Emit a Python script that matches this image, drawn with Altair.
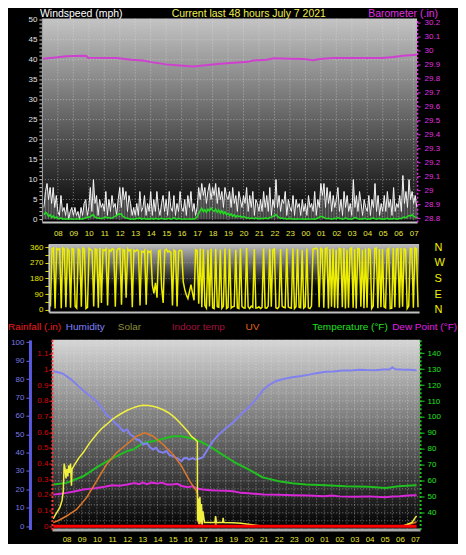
import json
import altair as alt
import pandas as pd

FONT = "Liberation Sans"

# ---------------- shared time axis (hours after 07:00, July 6) ----------------
HOUR_LABELS = ["08", "09", "10", "11", "12", "13", "14", "15", "16", "17", "18", "19",
               "20", "21", "22", "23", "00", "01", "02", "03", "04", "05", "06", "07"]
HOUR_TICKS = list(range(1, 25))
HALF_HOURS = [k / 2 for k in range(1, 49)]

# ---------------- top panel: wind speed (mph), 6-minute samples from 07:06 ----------------
WIND_T0, WIND_STEP = 0.1, 0.1
GUST = ([3, 7, 9, 5, 8, 4, 8, 3, 6, 2] + [1, 6, 2, 3, 1, 4, 0, 2, 3, 1] +
        [3, 1, 2, 0, 3, 1, 4, 5, 1, 3] + [8, 2, 10, 4, 6, 1, 5, 3, 4, 2] +
        [7, 1, 5, 2, 6, 3, 4, 1, 5, 8] + [3, 8, 5, 7, 2, 6, 4, 1, 3, 1] +
        [4, 1, 7, 2, 3, 6, 1, 4, 2, 7] + [1, 5, 2, 7, 3, 1, 4, 6, 2, 5] +
        [1, 7, 3, 2, 6, 1, 4, 2, 7, 3] + [2, 5, 1, 6, 3, 7, 2, 4, 1, 3] +
        [8, 5, 9, 6, 8, 4, 7, 9, 5, 8] + [6, 9, 4, 8, 5, 7, 3, 8, 6, 5] +
        [7, 3, 8, 4, 6, 2, 7, 5, 3, 6] + [4, 8, 2, 6, 3, 7, 1, 5, 4, 2] +
        [5, 2, 7, 3, 6, 2, 8, 1, 5, 3] + [10, 3, 6, 2, 5, 4, 7, 1, 5, 3] +
        [2, 6, 1, 5, 3, 4, 1, 5, 2, 4] + [1, 6, 3, 4, 2, 7, 1, 5, 3, 9] +
        [6, 9, 3, 8, 4, 7, 2, 6, 3, 5] + [8, 2, 5, 1, 7, 3, 6, 2, 4, 1] +
        [10, 3, 6, 2, 7, 4, 1, 5, 3, 2] + [6, 1, 5, 3, 9, 2, 6, 1, 4, 2] +
        [6, 2, 7, 3, 5, 1, 8, 2, 4, 3] + [6, 2, 11, 4, 7, 3, 10, 5, 7, 4] +
        [6, 3])
AVG = ([1.2, 1.8, 1.5, 0.8, 1.2, 0.5, 0.9, 0.4, 0.6, 0.3] +
       [0.2, 0.4, 0.1, 0.2, 0.1, 0.2, 0.1, 0.1, 0.2, 0.1] +
       [0.1, 0.2, 0.1, 0.1, 0.2, 0.1, 0.3, 0.4, 0.6, 0.5] +
       [0.8, 1.0, 1.2, 0.6, 0.5, 0.3, 0.4, 0.2, 0.3, 0.5] +
       [0.6, 0.4, 0.5, 0.3, 0.4, 0.6, 0.8, 1.0, 1.4, 1.2] +
       [1.5, 0.8, 0.6, 0.4, 0.3, 0.2, 0.1, 0.2, 0.1, 0.2] +
       [0.3, 0.2, 0.4, 0.1, 0.2, 0.3, 0.1, 0.2, 0.1, 0.3] +
       [0.2, 0.1, 0.3, 0.2, 0.1, 0.2, 0.3, 0.2, 0.1, 0.2] +
       [0.2, 0.3, 0.1, 0.2, 0.4, 0.2, 0.1, 0.3, 0.2, 0.1] +
       [0.1, 0.2, 0.1, 0.1, 0.2, 0.1, 0.2, 0.1, 0.3, 0.6] +
       [1.5, 2.2, 2.8, 2.0, 2.5, 1.8, 2.6, 2.1, 2.9, 2.3] +
       [2.0, 2.6, 1.8, 2.4, 1.6, 2.2, 1.4, 1.9, 1.2, 1.6] +
       [1.0, 1.4, 0.8, 1.2, 0.6, 1.0, 0.7, 0.9, 0.5, 0.8] +
       [0.6, 0.3, 0.5, 0.2, 0.4, 0.3, 0.2, 0.4, 0.2, 0.3] +
       [0.2, 0.3, 0.2, 0.4, 0.3, 0.2, 0.5, 0.6, 0.8, 1.0] +
       [1.2, 0.8, 0.5, 0.3, 0.4, 0.2, 0.3, 0.1, 0.2, 0.3] +
       [0.2, 0.1, 0.2, 0.1, 0.2, 0.1, 0.1, 0.2, 0.1, 0.2] +
       [0.1, 0.2, 0.1, 0.1, 0.2, 0.1, 0.2, 0.3, 0.6, 0.8] +
       [0.7, 0.5, 0.3, 0.2, 0.3, 0.2, 0.1, 0.2, 0.3, 0.2] +
       [0.5, 0.3, 0.2, 0.1, 0.2, 0.4, 0.2, 0.1, 0.2, 0.1] +
       [0.3, 0.5, 0.4, 0.2, 0.1, 0.2, 0.1, 0.3, 0.2, 0.1] +
       [0.2, 0.1, 0.3, 0.4, 0.2, 0.1, 0.2, 0.3, 0.1, 0.2] +
       [0.1, 0.2, 0.3, 0.1, 0.2, 0.1, 0.3, 0.2, 0.1, 0.2] +
       [0.3, 0.2, 0.5, 0.6, 0.4, 0.8, 1.0, 0.9, 1.2, 0.8] +
       [0.6, 0.5])
WIND_TICKS = list(range(0, 51))
WIND_GRID = [5, 10, 15, 20, 25, 30, 35, 40, 45]

# barometer (inHg): (hour, value)
BARO = [(0.03, 29.94), (0.7, 29.948), (1.0, 29.951), (1.54, 29.958), (2.62, 29.962),
        (2.85, 29.96), (2.94, 29.947), (4.8, 29.945), (5.74, 29.933), (6.5, 29.928),
        (7.03, 29.916), (8.0, 29.9), (9.1, 29.89), (9.75, 29.885), (10.4, 29.892),
        (11.3, 29.902), (12.4, 29.911), (13.3, 29.918), (13.6, 29.928), (14.5, 29.933),
        (14.93, 29.943), (16.0, 29.94), (16.9, 29.938), (17.5, 29.93), (17.95, 29.938),
        (18.8, 29.945), (22.0, 29.945), (22.7, 29.952), (23.3, 29.962), (24.2, 29.969)]
BARO_TICKS = [28.8, 28.9, 29.0, 29.1, 29.2, 29.3, 29.4, 29.5, 29.6, 29.7, 29.8, 29.9,
              30.0, 30.1, 30.2]

# ---------------- middle panel: wind direction (deg), 6-minute samples from 07:30 ----------------
DIR_T0, DIR_STEP = 0.5, 0.1
DIRECTION = ([20, 350, 355, 8, 352] +
             [345, 350, 10, 355, 348, 15, 350, 340, 12, 352] +
             [348, 20, 10, 350, 342, 18, 355, 348, 8, 15] +
             [352, 345, 338, 20, 350, 346, 12, 355, 40, 345] +
             [340, 350, 25, 344, 336, 350, 346, 18, 340, 350] +
             [352, 30, 346, 342, 70, 350, 338, 345, 15, 342] +
             [335, 345, 338, 25, 336, 330, 342, 30, 338, 330] +
             [338, 140, 95, 155, 70, 336, 342, 125, 40, 340] +
             [348, 332, 338, 328, 25, 342, 336, 20, 335, 342] +
             [338, 160, 115, 85, 65, 105, 145, 95, 55, 345] +
             [340, 35, 352, 15, 348, 25, 10, 345, 20, 350] +
             [12, 8, 350, 18, 15, 346, 10, 22, 352, 8] +
             [15, 350, 10, 18, 20, 345, 12, 8, 352, 20] +
             [12, 10, 355, 18, 8, 22, 15, 348, 10, 12] +
             [18, 8, 15, 352, 12, 10, 22, 350, 18, 345] +
             [350, 12, 8, 18, 348, 22, 15, 12, 352, 18] +
             [12, 10, 352, 8, 18, 350, 15, 12, 345, 10] +
             [18, 352, 12, 8, 22, 348, 350, 355, 346, 15] +
             [352, 345, 12, 350, 355, 8, 348, 18, 352, 12] +
             [345, 10, 352, 348, 15, 355, 8, 346, 12, 350] +
             [355, 12, 348, 8, 352, 350, 18, 345, 10, 352] +
             [12, 350, 345, 8, 22, 352, 355, 10, 348, 15] +
             [350, 18, 12, 345, 352, 8, 10, 355, 15, 348] +
             [352, 12, 355, 18, 350, 345, 8, 22, 352, 350] +
             [12, 355, 350, 15])
DIR_TICKS = [0, 45, 90, 135, 180, 225, 270, 315, 360]
DIR_GRID = [90, 180, 270]
COMPASS_TICKS = [0, 90, 180, 270, 360]
COMPASS = ["N", "E", "S", "W", "N"]

# ---------------- bottom panel: (hour, value) ----------------
HUMIDITY = [(0.12, 84.2), (0.5, 83.5), (0.78, 82.8), (1.0, 81.5), (1.3, 79.8), (1.55, 77.9),
            (1.8, 76.0), (2.1, 73.7), (2.5, 71.0), (2.98, 67.9), (3.3, 64.5), (3.64, 60.6),
            (3.9, 59.0), (4.18, 56.1), (4.4, 54.8), (4.73, 51.6), (5.0, 52.5), (5.2, 49.8),
            (5.39, 48.9), (5.6, 47.2), (5.8, 46.8), (6.05, 44.4), (6.3, 45.1), (6.5, 42.9),
            (6.71, 41.7), (6.9, 42.6), (7.1, 40.5), (7.37, 39.9), (7.6, 40.8), (7.8, 38.6),
            (8.03, 38.0), (8.2, 37.2), (8.4, 36.4), (8.58, 35.3), (8.75, 36.9), (8.9, 37.1),
            (9.1, 36.2), (9.3, 37.0), (9.5, 36.3), (9.79, 36.8), (10.0, 37.5), (10.1, 39.0),
            (10.3, 41.5), (10.66, 46.2), (11.0, 49.5), (11.55, 53.5), (12.0, 56.5),
            (12.49, 60.6), (13.0, 64.5), (13.48, 68.8), (14.03, 74.6), (14.4, 77.0),
            (14.8, 78.8), (15.3, 80.0), (15.9, 81.0), (16.5, 81.7), (17.0, 82.4), (17.5, 83.2),
            (18.1, 83.9), (18.6, 84.1), (19.2, 84.6), (19.8, 84.7), (20.3, 85.1), (20.8, 84.9),
            (21.4, 84.8), (21.9, 85.2), (22.3, 85.2), (22.5, 86.3), (22.7, 85.3), (23.3, 85.0),
            (23.7, 85.1), (24.0, 84.8), (24.1, 84.8)]
TEMPERATURE = [(0.12, 57.7), (1.0, 58.75), (2.1, 62.9), (2.98, 68.5), (4.07, 74.4), (4.95, 78.5),
               (5.39, 79.6), (6.05, 83.75), (6.7, 84.8), (7.37, 86.4), (8.03, 87.9), (8.58, 87.9),
               (9.13, 86.9), (9.79, 84.8), (10.45, 81.6), (11.1, 77.5), (11.98, 72.3),
               (12.16, 71.25), (13.04, 67.1), (13.92, 62.3), (14.36, 61.25), (15.0, 59.75),
               (15.9, 58.5), (16.8, 57.7), (18.1, 57.25), (19.4, 56.6), (20.95, 56.3),
               (22.05, 55.6), (22.9, 56.6), (24.0, 57.25), (24.1, 57.3)]
DEW_POINT = [(0.12, 51.4), (0.6, 51.9), (1.0, 52.5), (1.5, 53.4), (2.1, 54.6), (2.5, 55.0),
             (3.0, 55.6), (3.5, 56.3), (4.0, 57.25), (4.5, 57.0), (5.0, 57.7), (5.5, 58.6),
             (5.8, 57.9), (6.0, 59.1), (6.3, 58.0), (6.6, 58.9), (7.0, 58.3), (7.3, 59.0),
             (7.6, 57.8), (8.0, 57.7), (8.3, 58.2), (8.6, 56.8), (9.0, 56.0), (9.3, 56.6),
             (9.6, 55.2), (10.0, 54.6), (10.5, 54.2), (11.0, 53.9), (11.5, 53.8), (12.0, 53.5),
             (12.5, 52.5), (13.0, 52.2), (14.0, 51.4), (15.0, 51.3), (16.0, 51.0), (17.0, 50.8),
             (18.0, 50.4), (18.5, 50.9), (19.0, 50.3), (20.0, 50.0), (21.0, 50.3), (22.0, 49.8),
             (22.5, 50.2), (23.0, 50.4), (23.5, 50.8), (24.0, 51.0), (24.1, 51.0)]
# solar and UV read against the humidity scale (no axis of their own)
SOLAR = [(0.12, 4), (0.25, 6), (0.4, 8), (0.55, 10), (0.7, 14), (0.78, 19), (0.84, 34),
         (0.9, 31), (0.96, 26), (1.02, 31), (1.08, 27), (1.14, 33), (1.2, 29), (1.26, 34),
         (1.32, 22), (1.36, 31), (1.5, 33), (1.8, 37), (2.1, 40), (2.5, 45), (2.98, 50),
         (3.3, 53), (3.64, 55.3), (4.0, 58), (4.5, 60.7), (5.0, 63), (5.39, 64.3), (5.7, 65.2),
         (6.05, 65.7), (6.4, 65.6), (6.7, 65.2), (7.0, 64.5), (7.37, 63.3), (7.7, 61.8),
         (8.03, 59.8), (8.35, 57.3), (8.69, 54.3), (9.0, 51.5), (9.24, 48.8), (9.45, 47.5),
         (9.63, 46.0), (9.64, 3), (9.7, 15), (9.74, 1), (9.8, 16), (9.85, 2), (9.9, 12),
         (9.95, 1), (10.0, 8), (10.1, 2), (10.3, 2), (10.8, 2), (10.83, 5.5), (10.88, 2),
         (11.3, 2), (11.33, 4.5), (11.38, 2), (12.0, 1.8), (12.5, 1.5), (13.0, 1.0), (13.5, 0.5),
         (14.0, 0), (23.2, 0), (23.5, 1), (23.8, 2), (24.0, 4.5), (24.1, 5.5)]
UV = [(0.12, 1.9), (0.5, 3.2), (1.0, 5.5), (1.66, 9.1), (2.32, 15.5), (2.98, 24.5), (3.3, 29.0),
      (3.64, 33.6), (4.3, 39.9), (4.95, 44.4), (5.61, 48.9), (6.16, 50.7), (6.71, 48.9),
      (7.37, 44.4), (8.03, 39.0), (8.58, 32.7), (9.13, 24.5), (9.57, 19.1), (9.64, 17.5),
      (9.66, 2), (9.72, 15), (9.76, 1), (9.82, 13), (9.86, 1), (9.9, 10), (9.95, 0.5),
      (10.0, 0), (10.82, 0), (10.84, 5), (10.87, 0), (23.0, 0), (23.5, 0.8), (24.0, 2.0),
      (24.1, 2.5)]
RAINFALL = [(0.12, 0.0), (24.1, 0.0)]
HUM_TICKS = [0, 10, 20, 30, 40, 50, 60, 70, 80, 90, 100]
RAIN_TICKS = [0, 0.1, 0.2, 0.3, 0.4, 0.5, 0.6, 0.7, 0.8, 0.9, 1.0, 1.1, 1.2]
TEMP_TICKS = [40, 50, 60, 70, 80, 90, 100, 110, 120, 130, 140]
TEMP_GRID = [35, 40, 45, 50, 55, 60, 65, 70, 75, 80, 85, 90, 95, 100, 105, 110, 115, 120,
             125, 130, 135, 140, 145]

LEGEND = [("Rainfall (.in)", "#ee1c1c", -34), ("Humidity", "#8282ff", 24),
          ("Solar", "#8e8e3c", 76), ("Indoor temp", "#a3123c", 130), ("UV", "#e4641a", 204),
          ("Temperature (°F)", "#22e022", 271), ("Dew Point (°F)", "#e022e0", 351)]


# ---------------- helpers ----------------
def series_df(pairs):
    return pd.DataFrame({"t": [p[0] for p in pairs], "v": [p[1] for p in pairs],
                         "i": list(range(len(pairs)))})


def sampled_df(t0, step, values):
    return pd.DataFrame({"t": [t0 + step * i for i in range(len(values))], "v": values,
                         "i": list(range(len(values)))})


ONE = pd.DataFrame({"k": [0]})
GRID_STYLE = dict(color="#e4e4e4", strokeDash=[1, 2], opacity=0.5, strokeWidth=1)


def backdrop(x0, x1, y0, y1, stops):
    grad = alt.LinearGradient(gradient="linear", x1=0, x2=0, y1=0, y2=1,
                              stops=[alt.GradientStop(offset=o, color=c) for o, c in stops])
    return alt.Chart(ONE).mark_rect(fill=grad).encode(
        x=alt.value(x0), x2=alt.value(x1), y=alt.value(y0), y2=alt.value(y1))


def label(text, x, y, color, size, align="left", baseline="middle"):
    return alt.Chart(ONE).mark_text(text=text, align=align, baseline=baseline, color=color,
                                    fontSize=size, font=FONT).encode(
        x=alt.value(x), y=alt.value(y))


def hgrid(values, scale, axis, x0=None, x1=None):
    enc = dict(y=alt.Y("g:Q", scale=scale, axis=axis))
    if x0 is not None:
        enc.update(x=alt.value(x0), x2=alt.value(x1))
    return alt.Chart(pd.DataFrame({"g": values})).mark_rule(**GRID_STYLE).encode(**enc)


def vgrid(values, scale, axis, y0, y1):
    return alt.Chart(pd.DataFrame({"g": values})).mark_rule(**GRID_STYLE).encode(
        x=alt.X("g:Q", scale=scale, axis=axis), y=alt.value(y0), y2=alt.value(y1))


LAB = json.dumps(HOUR_LABELS)
HOUR_EXPR = f"datum.value % 1 == 0 ? {LAB}[datum.value - 1] : ''"
AX = dict(labelFont=FONT, title=None, labelOverlap=False, grid=False, zindex=1)

# ---------------- top panel ----------------
TW, TH = 376, 204
x_top_scale = alt.Scale(domain=[-0.03, 24.22], nice=False, zero=False)
x_top_axis = alt.Axis(values=HOUR_TICKS, labelExpr=HOUR_EXPR, ticks=False, domainColor="#c4c4c4",
                      domainWidth=2, labelColor="#e8e83c", labelFontSize=8, labelPadding=7, **AX)
x_top = alt.X("t:Q", scale=x_top_scale, axis=x_top_axis)
wind_scale = alt.Scale(domain=[-0.65, 50.3], nice=False, zero=False)
wind_axis = alt.Axis(orient="left", values=WIND_TICKS,
                     labelExpr="datum.value % 5 == 0 ? datum.label : ''", tickSize=3,
                     tickColor="#c8c8c8", labelColor="#e0e0e0", labelFontSize=8, labelPadding=2,
                     domainColor="#a0a0a0", **AX)
gust_df = sampled_df(WIND_T0, WIND_STEP, GUST)
avg_df = sampled_df(WIND_T0, WIND_STEP, AVG)
wind_y = alt.Y("v:Q", scale=wind_scale, axis=wind_axis)
wind_group = alt.layer(
    hgrid(WIND_GRID, wind_scale, wind_axis),
    vgrid(HOUR_TICKS, x_top_scale, x_top_axis, 0, TH),
    alt.Chart(gust_df).mark_rule(color="#d8d8d8", opacity=0.45, strokeWidth=1.2).encode(
        x=x_top, y=alt.Y("v:Q", scale=wind_scale, axis=wind_axis), y2=alt.datum(0)),
    alt.Chart(gust_df).mark_line(color="#f4f4f4", strokeWidth=1, clip=True).encode(x=x_top, y=wind_y),
    alt.Chart(avg_df).mark_line(color="#22dd22", strokeWidth=1.5, clip=True).encode(x=x_top, y=wind_y),
)
baro = alt.Chart(series_df(BARO)).mark_line(color="#d040d0", strokeWidth=2).encode(
    x=x_top,
    y=alt.Y("v:Q", scale=alt.Scale(domain=[28.774, 30.227], nice=False, zero=False),
            axis=alt.Axis(orient="right", values=BARO_TICKS,
                          labelExpr="replace(format(datum.value, '.1f'), '.0', '')",
                          tickSize=3, tickColor="#e030e0", labelColor="#e030e0", labelFontSize=8,
                          labelPadding=4, domainColor="#e030e0", domainDash=[2, 2],
                          domainWidth=1.5, **AX)))
top = alt.layer(
    backdrop(0, TW, 0, TH, [(0, "#c4c4c4"), (1, "#000000")]),
    wind_group, baro,
    label("Windspeed (mph)", -2, -10, "#ffffff", 10.5, baseline="top"),
    label("Current last 48 hours July 7 2021", 130, -10, "#f0f050", 10.5, baseline="top"),
    label("Barometer (.in)", 397, -10, "#e030e0", 10.5, align="right", baseline="top"),
).resolve_scale(y="independent").properties(width=TW, height=TH)

# ---------------- middle panel ----------------
MW, MH, MPH, MX0 = 378, 74, 68, 7
x_mid = alt.X("t:Q", scale=alt.Scale(domain=[0.40, 24.37], range=[MX0, MW], nice=False, zero=False),
              axis=alt.Axis(labels=False, ticks=False, domainColor="#c0c0c0", domainWidth=2,
                            offset=-(MH - MPH), **AX))
dir_scale = alt.Scale(domain=[-11.4, 377], range=[MPH, 0], nice=False, zero=False)
compass_expr = f"{json.dumps(COMPASS)}[datum.value / 90]"
mid = alt.layer(
    backdrop(MX0, MW, 0, MPH, [(0, "#bdbdbd"), (0.62, "#050505"), (1, "#000000")]),
    hgrid(DIR_GRID, dir_scale, x0=MX0, x1=MW,
          axis=alt.Axis(orient="right", values=COMPASS_TICKS, labelExpr=compass_expr, ticks=False,
                        domain=False, labelColor="#f0f000", labelFontSize=11, labelPadding=15,
                        **AX)),
    alt.Chart(sampled_df(DIR_T0, DIR_STEP, DIRECTION)).mark_line(
        color="#eeee00", strokeWidth=1.5).encode(
        x=x_mid,
        y=alt.Y("v:Q", scale=dir_scale, axis=alt.Axis(
            orient="left", offset=-MX0, values=DIR_TICKS,
            labelExpr="datum.value % 90 == 0 ? datum.label : ''", tickSize=4,
            tickColor="#e0e000", labelColor="#e8e800", labelFontSize=8, labelPadding=2,
            domainColor="#c8c8c8", domainWidth=2, **AX))),
).resolve_scale(y="independent").properties(width=MW, height=MH)

# ---------------- bottom panel ----------------
BW, BH, BX0 = 379, 190, 10
x_bot_scale = alt.Scale(domain=[0.03, 24.33], range=[BX0, BW], nice=False, zero=False)
x_bot_axis = alt.Axis(values=HOUR_TICKS, labelExpr=HOUR_EXPR, ticks=False, domainColor="#a8a8a8",
                      domainWidth=3, labelColor="#e8e83c", labelFontSize=8, labelPadding=6, **AX)
x_bot = alt.X("t:Q", scale=x_bot_scale, axis=x_bot_axis)
temp_scale = alt.Scale(domain=[29.6, 148.3], nice=False, zero=False)
hum_scale = alt.Scale(domain=[-1.8, 101.3], nice=False, zero=False)
rain_scale = alt.Scale(domain=[-0.021, 1.19], nice=False, zero=False)
temp_axis = alt.Axis(orient="right", values=TEMP_TICKS, tickSize=4, tickColor="#20d020",
                     labelColor="#20e020", labelFontSize=8, labelPadding=3, domainColor="#20c020",
                     domainDash=[2, 2], domainWidth=2, **AX)
temp_y = alt.Y("v:Q", scale=temp_scale, axis=temp_axis)
hum_y = alt.Y("v:Q", scale=hum_scale, axis=alt.Axis(
    orient="left", offset=12, values=HUM_TICKS, tickSize=4, tickColor="#6a6ae0",
    labelColor="#7a7ae8", labelFontSize=8, labelPadding=2, domainColor="#5a5ae0",
    domainWidth=3, **AX))
rain_y = alt.Y("v:Q", scale=rain_scale, axis=alt.Axis(
    orient="left", offset=-BX0, values=RAIN_TICKS,
    labelExpr="replace(format(datum.value, '.1f'), '.0', '')", tickSize=3, tickColor="#ff2020",
    labelColor="#dd0000", labelFontSize=8, labelPadding=1, domainColor="#ff3030",
    domainDash=[2, 2], domainWidth=2, **AX))
order = alt.Order("i:Q")
temp_group = alt.layer(
    hgrid(TEMP_GRID, temp_scale, temp_axis, x0=BX0, x1=BW),
    alt.Chart(series_df(TEMPERATURE)).mark_line(color="#20c020", strokeWidth=2).encode(
        x=x_bot, y=temp_y, order=order),
    alt.Chart(series_df(DEW_POINT)).mark_line(color="#d828d8", strokeWidth=2).encode(
        x=x_bot, y=temp_y, order=order),
)
hum_group = alt.layer(
    alt.Chart(series_df(HUMIDITY)).mark_line(color="#8080f0", strokeWidth=2).encode(
        x=x_bot, y=hum_y, order=order),
    alt.Chart(series_df(UV)).mark_line(color="#e07828", strokeWidth=1.5).encode(
        x=x_bot, y=hum_y, order=order),
    alt.Chart(series_df(SOLAR)).mark_line(color="#f0f040", strokeWidth=1.5).encode(
        x=x_bot, y=hum_y, order=order),
)
rain = alt.Chart(series_df(RAINFALL)).mark_line(color="#ff0000", strokeWidth=3).encode(
    x=x_bot, y=rain_y, order=order)
bottom = alt.layer(
    backdrop(BX0, BW, 0, BH, [(0, "#d6d6d6"), (1, "#000000")]),
    vgrid(HALF_HOURS, x_bot_scale, x_bot_axis, 0, BH),
    temp_group, hum_group, rain,
    *[label(t, x, -13, c, 10) for t, c, x in LEGEND],
).resolve_scale(y="independent").properties(width=BW, height=BH)

chart = alt.vconcat(top, mid, bottom, spacing=22, bounds="flush").properties(
    padding=0, background="#000000").configure_view(strokeWidth=0)

chart.save("out.html", embed_options={"renderer": "svg", "actions": False})
